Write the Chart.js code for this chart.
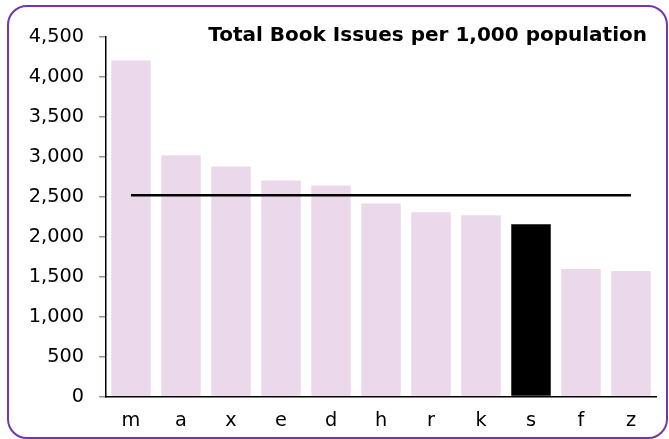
<!DOCTYPE html>
<html>
<head>
<meta charset="utf-8">
<script src="https://cdn.jsdelivr.net/npm/chart.js@4"></script>
<style>
  html, body { margin: 0; padding: 0; background: #fff; }
  #wrap { position: relative; width: 669px; height: 439px; overflow: hidden; }
  #frame { position: absolute; left: 7px; top: 5px; width: 661px; height: 434px; box-sizing: border-box;
           border: 2px solid #7435b0; border-radius: 20px; }
  #c { position: absolute; left: 0; top: 0; }
</style>
</head>
<body>
<div id="wrap">
  <div id="frame"></div>
  <canvas id="c" width="669" height="439"></canvas>
</div>
<script>
const categories = ['m', 'a', 'x', 'e', 'd', 'h', 'r', 'k', 's', 'f', 'z'];
const issues = [4205, 3020, 2880, 2705, 2640, 2415, 2305, 2270, 2155, 1595, 1570];
const averageValue = 2520;
const highlighted = 's';
const yTicks = [0, 500, 1000, 1500, 2000, 2500, 3000, 3500, 4000, 4500];
const titleText = 'Total Book Issues per 1,000 population';

const FONT = 'DejaVu Sans, Verdana, sans-serif';

const titlePlugin = {
  id: 'cornerTitle',
  afterDraw(chart) {
    const ctx = chart.ctx;
    ctx.save();
    ctx.font = 'bold 20px ' + FONT;
    ctx.fillStyle = '#000';
    ctx.textAlign = 'right';
    ctx.textBaseline = 'alphabetic';
    ctx.fillText(titleText, 647, 41);
    ctx.restore();
  }
};

new Chart(document.getElementById('c'), {
  data: {
    labels: categories,
    datasets: [
      {
        type: 'line',
        data: categories.map(() => averageValue),
        borderColor: '#000',
        borderWidth: 2.5,
        pointRadius: 0,
        fill: false,
        order: 0
      },
      {
        type: 'bar',
        data: issues,
        backgroundColor: categories.map(c => c === highlighted ? '#000000' : '#ebd8eb'),
        borderWidth: 0,
        barPercentage: 0.79,
        categoryPercentage: 1.0,
        order: 1
      }
    ]
  },
  options: {
    responsive: false,
    animation: false,
    layout: { padding: { top: 37, right: 13, bottom: 0, left: 0 } },
    plugins: { legend: { display: false }, tooltip: { enabled: false }, title: { display: false } },
    scales: {
      x: {
        offset: true,
        grid: { display: true, drawOnChartArea: false, drawTicks: false },
        border: { display: true, color: '#000', width: 1.5 },
        ticks: { color: '#000', font: { family: FONT, size: 19.3 }, padding: 13, maxRotation: 0 },
        afterFit(s) { s.height = 42.5; }
      },
      y: {
        min: 0, max: 4500,
        afterBuildTicks(s) { s.ticks = yTicks.map(v => ({ value: v })); },
        grid: { display: true, drawOnChartArea: false, drawTicks: true, tickLength: 7, color: '#909090', lineWidth: 1.5 },
        border: { display: true, color: '#000', width: 1.5 },
        ticks: {
          color: '#000', font: { family: FONT, size: 19.3 }, padding: 15,
          callback: v => v.toLocaleString('en-US')
        },
        afterFit(s) { s.width = 106; }
      }
    }
  },
  plugins: [titlePlugin]
});
</script>
</body>
</html>
